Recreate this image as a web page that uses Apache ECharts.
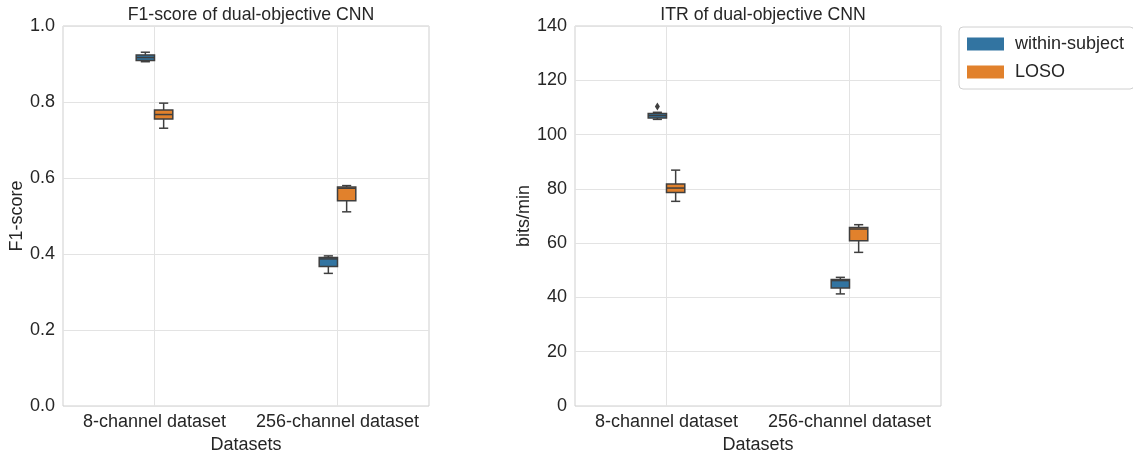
<!DOCTYPE html>
<html>
<head>
<meta charset="utf-8">
<script src="https://cdn.jsdelivr.net/npm/echarts@6/dist/echarts.min.js"></script>
<style>html,body{margin:0;padding:0;background:#fff}#c{width:1133px;height:454px}</style>
</head>
<body>
<div id="c"></div>
<script>
// ---- data ----
const categories = ['8-channel dataset', '256-channel dataset'];
const seriesNames = ['within-subject', 'LOSO'];
// [whiskerLow, Q1, median, Q3, whiskerHigh] per category
const f1Within = [[0.906, 0.909, 0.917, 0.924, 0.931], [0.349, 0.367, 0.387, 0.391, 0.395]];
const f1Loso   = [[0.731, 0.755, 0.767, 0.779, 0.797], [0.511, 0.540, 0.573, 0.576, 0.580]];
const itrWithin = [[105.6, 106.1, 107.0, 107.8, 108.2], [41.3, 43.5, 46.2, 46.6, 47.4]];
const itrLoso   = [[75.4, 78.7, 80.3, 81.8, 86.9], [56.6, 60.9, 65.2, 65.8, 66.8]];
// outliers [categoryIndex, value]
const itrWithinOutliers = [[0, 110.3]];
const f1Ticks = [0, 1, 0.2];
const itrTicks = [0, 140, 20];

const colors = ['#3274a1', '#e1812c'];
const lineColor = '#3f3f3f';
const textColor = '#262626';
const FONT = '"Liberation Sans", Arial, sans-serif';

const chart = echarts.init(document.getElementById('c'));

function boxRender(offsetSign) {
  return function (params, api) {
    const cat = api.value(0);
    const band = api.size([1, 0])[0];
    const bw = band * 0.1;
    const cx = api.coord([cat, 0])[0] + offsetSign * bw / 2;
    const y = i => api.coord([cat, api.value(i)])[1];
    const yLo = y(1), yQ1 = y(2), yMed = y(3), yQ3 = y(4), yHi = y(5);
    const capW = bw / 2;
    const ls = { stroke: lineColor, lineWidth: 1.5 };
    return {
      type: 'group',
      children: [
        { type: 'line', shape: { x1: cx, y1: yLo, x2: cx, y2: yQ1 }, style: ls },
        { type: 'line', shape: { x1: cx, y1: yQ3, x2: cx, y2: yHi }, style: ls },
        { type: 'line', shape: { x1: cx - capW / 2, y1: yLo, x2: cx + capW / 2, y2: yLo }, style: ls },
        { type: 'line', shape: { x1: cx - capW / 2, y1: yHi, x2: cx + capW / 2, y2: yHi }, style: ls },
        { type: 'rect', shape: { x: cx - bw / 2, y: yQ3, width: bw, height: yQ1 - yQ3 },
          style: { fill: api.visual('color'), stroke: lineColor, lineWidth: 1.5 } },
        { type: 'line', shape: { x1: cx - bw / 2, y1: yMed, x2: cx + bw / 2, y2: yMed }, style: ls }
      ]
    };
  };
}
function outlierRender(offsetSign) {
  return function (params, api) {
    const cat = api.value(0);
    const band = api.size([1, 0])[0];
    const bw = band * 0.1;
    const p = api.coord([cat, api.value(1)]);
    const cx = p[0] + offsetSign * bw / 2, cy = p[1];
    return {
      type: 'polygon',
      shape: { points: [[cx, cy - 4], [cx + 2.5, cy], [cx, cy + 4], [cx - 2.5, cy]] },
      style: { fill: lineColor }
    };
  };
}
function toRows(arr) { return arr.map((v, i) => [i].concat(v)); }

function mkBox(name, data, gi, colorIdx, sign) {
  return {
    type: 'custom', name: name, xAxisIndex: gi, yAxisIndex: gi,
    itemStyle: { color: colors[colorIdx] },
    renderItem: boxRender(sign),
    encode: { x: 0, y: [1, 2, 3, 4, 5] },
    data: toRows(data), z: 5
  };
}

const axisText = { color: textColor, fontSize: 18, fontFamily: FONT };
function xAxis(gi) {
  return {
    type: 'category', gridIndex: gi, data: categories,
    name: 'Datasets', nameLocation: 'middle', nameGap: 29,
    nameTextStyle: axisText,
    axisLine: { show: false }, axisTick: { show: false, interval: 0 },
    axisLabel: Object.assign({ margin: 7, interval: 0 }, axisText),
    splitLine: { show: true, interval: 0, alignWithLabel: true, lineStyle: { color: '#e3e3e3', width: 1 } }
  };
}
function yAxis(gi, ticks, name, gap, fmt) {
  return {
    type: 'value', gridIndex: gi, min: ticks[0], max: ticks[1], interval: ticks[2],
    name: name, nameLocation: 'middle', nameGap: gap, nameTextStyle: axisText,
    axisLine: { show: false }, axisTick: { show: false },
    axisLabel: Object.assign({ margin: 8, formatter: fmt }, axisText),
    splitLine: { show: true, lineStyle: { color: '#e3e3e3', width: 1 } }
  };
}
const titleStyle = { color: textColor, fontSize: 17.7, fontWeight: 'normal', fontFamily: FONT };

chart.setOption({
  animation: false,
  backgroundColor: '#ffffff',
  textStyle: { fontFamily: FONT },
  title: [
    { text: 'F1-score of dual-objective CNN', left: 246, top: 1, textAlign: 'center', textStyle: titleStyle },
    { text: 'ITR of dual-objective CNN', left: 758, top: 1, textAlign: 'center', textStyle: titleStyle }
  ],
  legend: {
    data: seriesNames, orient: 'vertical', left: 959, top: 27,
    icon: 'rect', itemWidth: 37, itemHeight: 13, itemGap: 10,
    padding: [8, 10, 8, 8],
    borderColor: '#d0d0d0', borderWidth: 1, borderRadius: 4,
    textStyle: { color: textColor, fontSize: 18, fontFamily: FONT, padding: [0, 0, 0, 6] }
  },
  grid: [
    { left: 63, top: 26, width: 366, height: 380, show: true, borderColor: '#cfcfcf', borderWidth: 1,
      outerBoundsMode: 'none', containLabel: false },
    { left: 575, top: 26, width: 366, height: 380, show: true, borderColor: '#cfcfcf', borderWidth: 1,
      outerBoundsMode: 'none', containLabel: false }
  ],
  xAxis: [xAxis(0), xAxis(1)],
  yAxis: [
    yAxis(0, f1Ticks, 'F1-score', 35, v => v.toFixed(1)),
    yAxis(1, itrTicks, 'bits/min', 42, v => String(v))
  ],
  series: [
    mkBox('within-subject', f1Within, 0, 0, -1),
    mkBox('LOSO', f1Loso, 0, 1, 1),
    mkBox('within-subject', itrWithin, 1, 0, -1),
    mkBox('LOSO', itrLoso, 1, 1, 1),
    {
      type: 'custom', name: 'outliers', xAxisIndex: 1, yAxisIndex: 1,
      renderItem: outlierRender(-1), encode: { x: 0, y: 1 },
      data: itrWithinOutliers, z: 6
    }
  ]
});
</script>
</body>
</html>
